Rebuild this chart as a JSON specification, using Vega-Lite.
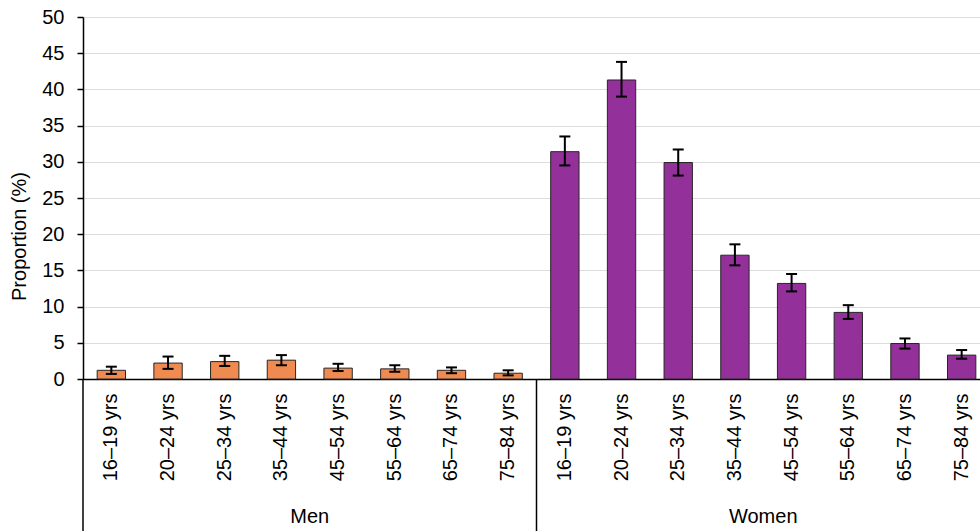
{
  "$schema": "https://vega.github.io/schema/vega-lite/v6.json",
  "width": 897,
  "height": 362,
  "autosize": {"type": "none"},
  "padding": {"left": 83, "top": 17, "right": 0, "bottom": 152},
  "config": {
    "font": "Liberation Sans",
    "view": {"stroke": null},
    "axis": {"labelColor": "#000000", "titleColor": "#000000", "domainColor": "#000000", "tickColor": "#000000"}
  },
  "datasets": {
    "bars": [
      {"sex": "Men", "age": "16–19 yrs", "key": "Men|16–19 yrs", "value": 1.2, "lo": 0.7, "hi": 1.7},
      {"sex": "Men", "age": "20–24 yrs", "key": "Men|20–24 yrs", "value": 2.2, "lo": 1.4, "hi": 3.1},
      {"sex": "Men", "age": "25–34 yrs", "key": "Men|25–34 yrs", "value": 2.4, "lo": 1.8, "hi": 3.2},
      {"sex": "Men", "age": "35–44 yrs", "key": "Men|35–44 yrs", "value": 2.6, "lo": 1.9, "hi": 3.3},
      {"sex": "Men", "age": "45–54 yrs", "key": "Men|45–54 yrs", "value": 1.5, "lo": 1.1, "hi": 2.1},
      {"sex": "Men", "age": "55–64 yrs", "key": "Men|55–64 yrs", "value": 1.4, "lo": 1.0, "hi": 1.9},
      {"sex": "Men", "age": "65–74 yrs", "key": "Men|65–74 yrs", "value": 1.2, "lo": 0.8, "hi": 1.6},
      {"sex": "Men", "age": "75–84 yrs", "key": "Men|75–84 yrs", "value": 0.8, "lo": 0.5, "hi": 1.2},
      {"sex": "Women", "age": "16–19 yrs", "key": "Women|16–19 yrs", "value": 31.4, "lo": 29.5, "hi": 33.5},
      {"sex": "Women", "age": "20–24 yrs", "key": "Women|20–24 yrs", "value": 41.3, "lo": 39.0, "hi": 43.8},
      {"sex": "Women", "age": "25–34 yrs", "key": "Women|25–34 yrs", "value": 29.9, "lo": 28.1, "hi": 31.7},
      {"sex": "Women", "age": "35–44 yrs", "key": "Women|35–44 yrs", "value": 17.1, "lo": 15.7, "hi": 18.6},
      {"sex": "Women", "age": "45–54 yrs", "key": "Women|45–54 yrs", "value": 13.2, "lo": 12.1, "hi": 14.5},
      {"sex": "Women", "age": "55–64 yrs", "key": "Women|55–64 yrs", "value": 9.2, "lo": 8.3, "hi": 10.2},
      {"sex": "Women", "age": "65–74 yrs", "key": "Women|65–74 yrs", "value": 4.9, "lo": 4.2, "hi": 5.6},
      {"sex": "Women", "age": "75–84 yrs", "key": "Women|75–84 yrs", "value": 3.3, "lo": 2.8, "hi": 4.0}
    ],
    "dividers": [
      {"key": "Men|16–19 yrs"},
      {"key": "Women|16–19 yrs"}
    ],
    "groups": [
      {"key": "Men|45–54 yrs", "label": "Men"},
      {"key": "Women|45–54 yrs", "label": "Women"}
    ]
  },
  "layer": [
    {
      "data": {"name": "bars"},
      "mark": {"type": "bar", "width": {"band": 0.5}, "stroke": "#262626", "strokeWidth": 1},
      "encoding": {
        "x": {
          "field": "key", "type": "nominal", "sort": null,
          "scale": {
            "domain": ["Men|16–19 yrs", "Men|20–24 yrs", "Men|25–34 yrs", "Men|35–44 yrs", "Men|45–54 yrs", "Men|55–64 yrs", "Men|65–74 yrs", "Men|75–84 yrs", "Women|16–19 yrs", "Women|20–24 yrs", "Women|25–34 yrs", "Women|35–44 yrs", "Women|45–54 yrs", "Women|55–64 yrs", "Women|65–74 yrs", "Women|75–84 yrs"],
            "range": [0, 907], "paddingInner": 0, "paddingOuter": 0
          },
          "axis": {
            "title": null, "ticks": false, "labelAngle": -90, "labelAlign": "right", "labelBaseline": "middle",
            "labelPadding": 14, "labelFontSize": 20, "labelExpr": "split(datum.label, '|')[1]",
            "labelOverlap": false, "domainWidth": 1.5, "grid": false
          }
        },
        "y": {
          "field": "value", "type": "quantitative",
          "scale": {"domain": [0, 50], "nice": false, "zero": true},
          "axis": {
            "title": "Proportion (%)", "values": [0, 5, 10, 15, 20, 25, 30, 35, 40, 45, 50], "tickCount": 20,
            "tickSize": 6, "tickWidth": 1.5, "domainWidth": 1.5, "labelFontSize": 20, "labelPadding": 13,
            "labelOverlap": false, "labelFlush": false,
            "titleFontSize": 20, "titleFontWeight": "normal", "titlePadding": 12, "titleY": 219,
            "grid": true, "gridColor": "#dcdcdc", "gridWidth": 1
          }
        },
        "color": {
          "field": "sex", "type": "nominal",
          "scale": {"domain": ["Men", "Women"], "range": ["#EF8A50", "#93309A"]},
          "legend": null
        }
      }
    },
    {
      "data": {"name": "bars"},
      "mark": {"type": "rule", "color": "#000000", "strokeWidth": 2},
      "encoding": {
        "x": {"field": "key", "type": "nominal"},
        "y": {"field": "lo", "type": "quantitative"},
        "y2": {"field": "hi"}
      }
    },
    {
      "data": {"name": "bars"},
      "mark": {"type": "tick", "color": "#000000", "size": 11, "thickness": 2, "opacity": 1},
      "encoding": {
        "x": {"field": "key", "type": "nominal"},
        "y": {"field": "lo", "type": "quantitative"}
      }
    },
    {
      "data": {"name": "bars"},
      "mark": {"type": "tick", "color": "#000000", "size": 11, "thickness": 2, "opacity": 1},
      "encoding": {
        "x": {"field": "key", "type": "nominal"},
        "y": {"field": "hi", "type": "quantitative"}
      }
    },
    {
      "data": {"name": "dividers"},
      "mark": {"type": "rule", "color": "#000000", "strokeWidth": 1.5},
      "encoding": {
        "x": {"field": "key", "type": "nominal", "bandPosition": 0},
        "y": {"datum": 0, "type": "quantitative"},
        "y2": {"datum": -21}
      }
    },
    {
      "data": {"name": "groups"},
      "mark": {"type": "text", "fontSize": 20, "color": "#000000", "baseline": "middle", "align": "center"},
      "encoding": {
        "x": {"field": "key", "type": "nominal", "bandPosition": 0},
        "y": {"datum": -19, "type": "quantitative"},
        "text": {"field": "label"}
      }
    }
  ]
}
